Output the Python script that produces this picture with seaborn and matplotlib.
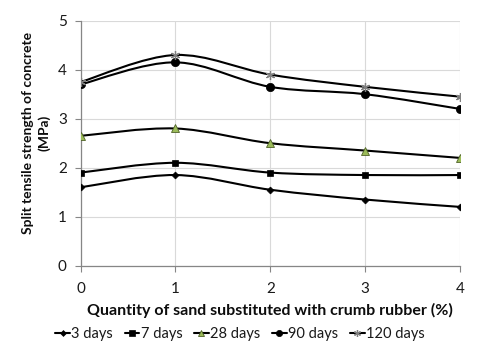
import numpy as np
import pandas as pd
import matplotlib
matplotlib.use("Agg")
import matplotlib.pyplot as plt
from matplotlib.path import Path
from matplotlib.patches import PathPatch
from matplotlib.lines import Line2D
import seaborn as sns

x_vals = [0, 1, 2, 3, 4]
series_names = ["3 days", "7 days", "28 days", "90 days", "120 days"]
d3 = [1.6, 1.85, 1.55, 1.35, 1.2]
d7 = [1.9, 2.1, 1.9, 1.85, 1.85]
d28 = [2.65, 2.8, 2.5, 2.35, 2.2]
d90 = [3.7, 4.15, 3.65, 3.5, 3.2]
d120 = [3.75, 4.3, 3.9, 3.65, 3.45]
values = [d3, d7, d28, d90, d120]

sns.set_theme(style="white")
plt.rcParams['font.family'] = ['Lato', 'DejaVu Sans']

fig = plt.figure(figsize=(4.8, 3.6), dpi=100)
ax = fig.add_axes([0.168, 0.262, 0.79, 0.6805])

markers = ["D", "s", "^", "o", (6, 2, 0)]
msizes = [3.5, 5, 5.5, 6, 6.5]
mface = ["black", "black", "#9BBB59", "black", "#7F7F7F"]
medge = ["black", "black", "#4F6228", "black", "#7F7F7F"]
mew = [0.5, 0.5, 0.6, 0.5, 0.9]
leg_ms = [3, 4, 4.5, 4.5, 5]


def smooth_path(xs, ys):
    pts = np.column_stack([xs, ys]).astype(float)
    n = len(pts)
    verts = [pts[0]]
    codes = [Path.MOVETO]
    for i in range(n - 1):
        p0 = pts[i - 1] if i > 0 else pts[i]
        p1 = pts[i]
        p2 = pts[i + 1]
        p3 = pts[i + 2] if i + 2 < n else pts[i + 1]
        c1 = p1 + (p2 - p0) / 6.0
        c2 = p2 - (p3 - p1) / 6.0
        verts += [c1, c2, p2]
        codes += [Path.CURVE4] * 3
    return Path(verts, codes)


handles = []
for name, vals, mk, ms, fc, ec, ew, lms in zip(series_names, values, markers, msizes,
                                               mface, medge, mew, leg_ms):
    ax.add_patch(PathPatch(smooth_path(x_vals, vals), facecolor="none",
                           edgecolor="black", lw=1.5, zorder=3))
    df = pd.DataFrame({"x": x_vals, "y": vals})
    sns.lineplot(data=df, x="x", y="y", ax=ax, linestyle="none", marker=mk,
                 markersize=ms, markerfacecolor=fc, markeredgecolor=ec,
                 markeredgewidth=ew, zorder=4)
    handles.append(Line2D([], [], color="black", lw=1.5, marker=mk, markersize=lms,
                          markerfacecolor=fc, markeredgecolor=ec, markeredgewidth=ew))

ax.set_xlim(0, 4)
ax.set_ylim(0, 5)
ax.set_xticks(x_vals)
ax.set_yticks([0, 1, 2, 3, 4, 5])
ax.grid(True, color="#D9D9D9", lw=0.8)
ax.set_axisbelow(True)
for s in ["top", "right"]:
    ax.spines[s].set_visible(False)
for s in ["left", "bottom"]:
    ax.spines[s].set_color("#868686")
    ax.spines[s].set_linewidth(0.9)
ax.tick_params(axis="both", which="both", direction="out", length=4, width=0.8,
               color="#868686", labelsize=11, labelcolor="#1a1a1a", pad=6)
ax.tick_params(axis="x", pad=8)
ax.tick_params(left=True, bottom=True)

ax.set_xlabel("Quantity of sand substituted with crumb rubber (%)", fontsize=11.5,
              fontweight="bold", labelpad=5, color="#0d0d0d")
ax.set_ylabel("")
fig.text(28 / 480, 0.63, "Split tensile strength of concrete", rotation=90,
         ha="center", va="center", fontsize=10, fontweight="bold", color="#0d0d0d")
fig.text(44 / 480, 0.63, "(MPa)", rotation=90,
         ha="center", va="center", fontsize=10, fontweight="bold", color="#0d0d0d")

fig.legend(handles, series_names, loc="center", bbox_to_anchor=(0.5, 0.072), ncol=5,
           frameon=False, fontsize=10.5, handlelength=1.0, handletextpad=0.1,
           columnspacing=0.8, labelcolor="#1a1a1a")

fig.savefig("out.png", dpi=100)
